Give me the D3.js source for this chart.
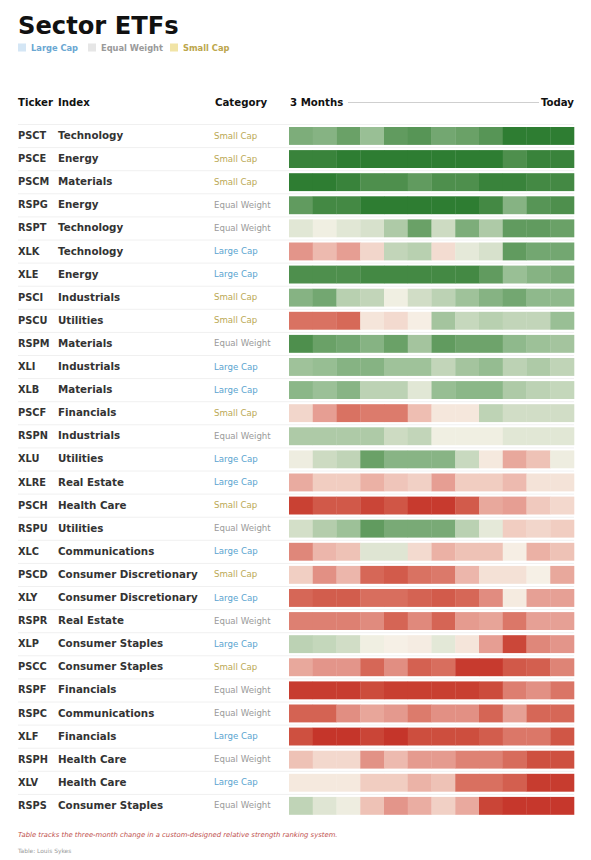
<!DOCTYPE html>
<html>
<head>
<meta charset="utf-8">
<script src="https://cdn.jsdelivr.net/npm/d3@7/dist/d3.min.js"></script>
<style>
  html, body { margin: 0; padding: 0; background: #fff; }
  svg { display: block; font-family: "DejaVu Sans", sans-serif; }
</style>
</head>
<body>
<div id="chart"></div>
<script>
// Sector ETF relative-strength table, 12 weekly readings per row.

const tickers = ['PSCT','PSCE','PSCM','RSPG','RSPT','XLK','XLE','PSCI','PSCU','RSPM',
  'XLI','XLB','PSCF','RSPN','XLU','XLRE','PSCH','RSPU','XLC','PSCD',
  'XLY','RSPR','XLP','PSCC','RSPF','RSPC','XLF','RSPH','XLV','RSPS'];

const indexes = ['Technology','Energy','Materials','Energy','Technology','Technology','Energy',
  'Industrials','Utilities','Materials','Industrials','Materials','Financials','Industrials',
  'Utilities','Real Estate','Health Care','Utilities','Communications','Consumer Discretionary',
  'Consumer Discretionary','Real Estate','Consumer Staples','Consumer Staples','Financials',
  'Communications','Financials','Health Care','Health Care','Consumer Staples'];

const categories = ['Small Cap','Small Cap','Small Cap','Equal Weight','Equal Weight','Large Cap',
  'Large Cap','Small Cap','Small Cap','Equal Weight','Large Cap','Large Cap','Small Cap',
  'Equal Weight','Large Cap','Large Cap','Small Cap','Equal Weight','Large Cap','Small Cap',
  'Large Cap','Equal Weight','Large Cap','Small Cap','Equal Weight','Equal Weight','Large Cap',
  'Equal Weight','Large Cap','Equal Weight'];

// score change per week, -10 (weakest) .. +10 (strongest)
const scores = [
  [6, 5.5, 7, 4.5, 7.5, 8, 6.5, 7, 8, 10, 10, 10],
  [9.5, 9.5, 10, 10, 10, 10, 10, 10, 10, 8.5, 9.5, 9.5],
  [10, 10, 9.5, 8.5, 8.5, 7.5, 8.5, 8.5, 9.5, 9.5, 9, 9],
  [7.5, 9, 9, 10, 10, 10, 10, 10, 9, 5.5, 8, 8.5],
  [1, 0.3, 1, 1.5, 3.5, 7, 2, 6, 3.5, 7.5, 7.5, 7],
  [-5, -3, -4.5, -1.5, 2.5, 3, -1.2, 0.8, 1.5, 7.5, 6.5, 6.5],
  [8.5, 8.5, 8.5, 9, 9, 9, 9, 9, 7.5, 4.5, 5.5, 6],
  [5.5, 6.5, 3, 2.5, 0.3, 1.8, 2.8, 4.2, 5.5, 6.5, 5, 5],
  [-7, -7, -7.5, -0.7, -1.3, -0.2, 4, 2.3, 3, 2.5, 2.5, 4.5],
  [8.5, 7, 6.5, 5.5, 7, 4, 7.5, 6.8, 6.8, 5, 4.3, 4],
  [4.2, 4.6, 5.5, 5.5, 4.2, 4.2, 2.5, 4, 4.7, 2.8, 3.5, 2.6],
  [5.2, 4.4, 5.4, 2.8, 2.8, 1, 4.6, 5.2, 5.2, 3.5, 2.8, 2.4],
  [-1.5, -4.5, -7, -6.5, -6.5, -2.8, -0.6, -0.6, 2.7, 1.8, 1.8, 1.8],
  [3.5, 3.5, 3.5, 3.5, 2, 2.5, 0.3, 0.3, 0.3, 1, 1, 1],
  [0.4, 2, 2.6, 7, 5.4, 5.4, 5.4, 2.2, -0.5, -4, -2.6, 0.4],
  [-3.8, -2, -2, -3.5, -2.4, -1.8, -4.5, -2, -2, -3, -0.8, -0.8],
  [-9.5, -8.3, -8.3, -9.3, -8.5, -9.8, -9.8, -8.2, -4, -4.5, -2.2, -1.4],
  [1.7, 3.2, 4.3, 7.5, 6.2, 6.2, 6.2, 2.9, 0.8, -2, -1.5, -2],
  [-5.8, -3.2, -2.6, 1.1, 1.1, -1.3, -3.5, -2.6, -2.6, -0.2, -3.5, -2.6],
  [-1.9, -5.3, -3.2, -7.6, -8.2, -7, -6.6, -3.2, -0.9, -0.9, -0.1, -4],
  [-7.6, -8.1, -8.1, -7.2, -7.2, -7.8, -8.2, -7.6, -5.5, -0.4, -4.4, -4.4],
  [-6.2, -6.2, -6.2, -5.6, -7.7, -5.7, -7.7, -4.7, -4.2, -6.7, -4.4, -4.4],
  [2.8, 2.4, 1.8, 0.3, -0.1, -0.3, 0.9, -0.7, -4.5, -9.2, -5.8, -5],
  [-4, -5, -5, -7.6, -5.4, -7.9, -7.2, -9.8, -9.8, -8.3, -8, -6],
  [-9.7, -9.7, -9.7, -9, -9.6, -9.6, -9.6, -9.6, -9, -6.3, -5.3, -6.8],
  [-7.8, -7.8, -5.4, -4.1, -4.8, -6.5, -5.3, -5.3, -7.7, -4.4, -7.6, -7.6],
  [-8.8, -10, -10, -9.3, -10, -8.9, -8.9, -8.9, -8.1, -6.7, -6.7, -8.5],
  [-2.6, -1.4, -1.4, -5.2, -3, -4.7, -4.7, -6.1, -6.1, -7.3, -8.8, -8.8],
  [-0.5, -0.5, -0.5, -2, -2, -3.4, -2.6, -7.1, -7.1, -8, -9.7, -9.7],
  [2.6, 1.1, 0.4, -2.6, -5, -3.7, -1.8, -3.9, -9.3, -9.9, -9.9, -9.9]
];

const weeks = d3.range(12);
const legendCats = ['Large Cap', 'Equal Weight', 'Small Cap'];
const legendText = ['#6aa7d2', '#9a9a9a', '#bca64c'];
const legendSwatch = ['#d4e6f5', '#e6e6e6', '#f1e4a6'];
const catText = { 'Large Cap': '#5aa4cf', 'Equal Weight': '#9a9a9a', 'Small Cap': '#bba954' };

const W = 591, H = 860;
const HEAT_L = 289, HEAT_R = 574;
const ROW_TOP = 124, ROW_H = 23.1;

const svg = d3.select('#chart').append('svg')
  .attr('width', W).attr('height', H)
  .attr('viewBox', `0 0 ${W} ${H}`);

svg.append('text')
  .attr('x', 18).attr('y', 34)
  .attr('font-size', 24.2).attr('font-weight', 700).attr('fill', '#111')
  .text('Sector ETFs');

// legend
const legX = [18, 88, 170];
const leg = svg.append('g');
legendCats.forEach((c, i) => {
  leg.append('rect').attr('x', legX[i]).attr('y', 43.5).attr('width', 8).attr('height', 8)
    .attr('fill', legendSwatch[i]);
  leg.append('text').attr('x', legX[i] + 13).attr('y', 51)
    .attr('font-size', 8.3).attr('font-weight', 700).attr('fill', legendText[i])
    .text(c);
});

// header
const hdr = svg.append('g').attr('font-size', 10.2).attr('font-weight', 700).attr('fill', '#111');
hdr.append('text').attr('x', 18).attr('y', 106).text('Ticker');
hdr.append('text').attr('x', 58).attr('y', 106).text('Index');
hdr.append('text').attr('x', 215).attr('y', 106).text('Category');
hdr.append('text').attr('x', 290).attr('y', 106).text('3 Months');
hdr.append('text').attr('x', HEAT_R).attr('y', 106).attr('text-anchor', 'end').text('Today');
svg.append('line').attr('x1', 348).attr('x2', 539).attr('y1', 102.5).attr('y2', 102.5)
  .attr('stroke', '#cfcfcf').attr('stroke-width', 1);

const y = d3.scaleBand().domain(tickers).range([ROW_TOP, ROW_TOP + ROW_H * tickers.length]);
const x = d3.scaleBand().domain(weeks).range([HEAT_L, HEAT_R]);
const color = d3.scaleLinear()
  .domain([-10, -5, 0, 5, 10])
  .range(['#c5352a', '#e3958a', '#f6f2e8', '#8fb98c', '#2e7d32'])
  .interpolate(d3.interpolateLab)
  .clamp(true);

// row separators
svg.append('g').selectAll('line')
  .data(tickers)
  .join('line')
  .attr('x1', 18).attr('x2', HEAT_R)
  .attr('y1', d => y(d) + 0.5).attr('y2', d => y(d) + 0.5)
  .attr('stroke', '#f0f0f0').attr('stroke-width', 1);

const rows = svg.append('g').selectAll('g.row')
  .data(tickers)
  .join('g')
  .attr('class', 'row')
  .attr('transform', d => `translate(0,${y(d)})`);

rows.append('text').attr('x', 18).attr('y', ROW_H / 2 + 3.5)
  .attr('font-size', 9.8).attr('font-weight', 700).attr('fill', '#333')
  .text(d => d);
rows.append('text').attr('x', 58).attr('y', ROW_H / 2 + 3.5)
  .attr('font-size', 10.3).attr('font-weight', 700).attr('fill', '#333')
  .text((d, i) => indexes[i]);
rows.append('text').attr('x', 214).attr('y', ROW_H / 2 + 3)
  .attr('font-size', 8.6).attr('fill', (d, i) => catText[categories[i]])
  .text((d, i) => categories[i]);

rows.each(function (d, i) {
  d3.select(this).selectAll('rect')
    .data(scores[i])
    .join('rect')
    .attr('x', (v, j) => x(j))
    .attr('y', 3)
    .attr('width', x.bandwidth() + 0.3)
    .attr('height', ROW_H - 5.2)
    .attr('fill', v => color(v));
});

svg.append('text').attr('x', 18).attr('y', 837)
  .attr('font-size', 6.85).attr('font-style', 'italic').attr('fill', '#c0504d')
  .text('Table tracks the three-month change in a custom-designed relative strength ranking system.');
svg.append('text').attr('x', 18).attr('y', 853)
  .attr('font-size', 5.9).attr('fill', '#999')
  .text('Table: Louis Sykes');
</script>
</body>
</html>
